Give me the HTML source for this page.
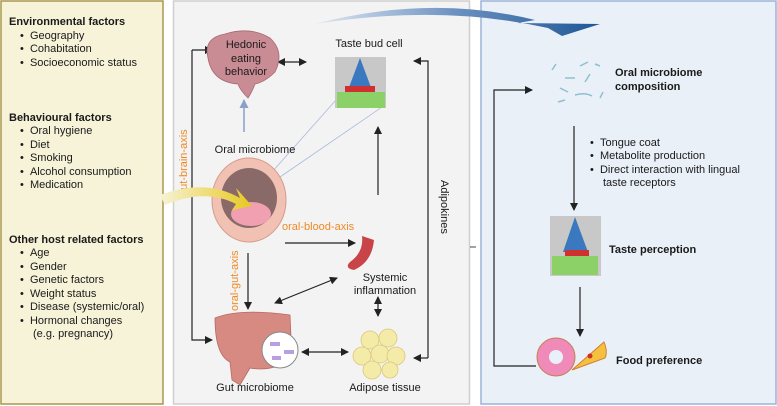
<!DOCTYPE html>
<html><head><meta charset="utf-8"><style>
body{margin:0;width:777px;height:406px;overflow:hidden;background:#fff;font-family:"Liberation Sans",sans-serif}
svg{display:block}
text{font-family:"Liberation Sans",sans-serif;font-size:11px;fill:#1a1a1a}
.b{font-weight:bold}
.o{fill:#f08a24}
</style></head><body>
<svg width="777" height="406" viewBox="0 0 777 406">
<defs>
<marker id="a" markerWidth="8" markerHeight="8" refX="7" refY="4" orient="auto" markerUnits="userSpaceOnUse"><path d="M0,0 L8,4 L0,8 z" fill="#222"/></marker>
<marker id="s" markerWidth="8" markerHeight="8" refX="1" refY="4" orient="auto" markerUnits="userSpaceOnUse"><path d="M8,0 L0,4 L8,8 z" fill="#222"/></marker>
<marker id="g" markerWidth="9" markerHeight="9" refX="8" refY="4.5" orient="auto" markerUnits="userSpaceOnUse"><path d="M0,0 L9,4.5 L0,9 z" fill="#8aa0c8"/></marker>
<linearGradient id="bl" x1="0" x2="1"><stop offset="0" stop-color="#dfe8f4"/><stop offset="0.5" stop-color="#6a90c0"/><stop offset="1" stop-color="#1f5696"/></linearGradient>
<linearGradient id="yl" x1="0" x2="1"><stop offset="0" stop-color="#f6f3d6"/><stop offset="1" stop-color="#e8c820"/></linearGradient>
</defs>
<rect x="1" y="1" width="162" height="403" fill="#f6f3d8" stroke="#a8974e" stroke-width="1.5"/>
<rect x="173.5" y="1" width="296" height="403" fill="#f3f3f3" stroke="#cfcfcf" stroke-width="1.5"/>
<rect x="481" y="1" width="295" height="403" fill="#eaf0f8" stroke="#9eb3d8" stroke-width="1.5"/>
<!-- left text -->
<text x="9" y="25" class="b">Environmental factors</text>
<text x="20" y="39">•&#160;&#160;Geography</text>
<text x="20" y="52">•&#160;&#160;Cohabitation</text>
<text x="20" y="66">•&#160;&#160;Socioeconomic status</text>
<text x="9" y="121" class="b">Behavioural factors</text>
<text x="20" y="134">•&#160;&#160;Oral hygiene</text>
<text x="20" y="148">•&#160;&#160;Diet</text>
<text x="20" y="161">•&#160;&#160;Smoking</text>
<text x="20" y="175">•&#160;&#160;Alcohol consumption</text>
<text x="20" y="188">•&#160;&#160;Medication</text>
<text x="9" y="243" class="b">Other host related factors</text>
<text x="20" y="256">•&#160;&#160;Age</text>
<text x="20" y="270">•&#160;&#160;Gender</text>
<text x="20" y="283">•&#160;&#160;Genetic factors</text>
<text x="20" y="297">•&#160;&#160;Weight status</text>
<text x="20" y="310">•&#160;&#160;Disease (systemic/oral)</text>
<text x="20" y="324">•&#160;&#160;Hormonal changes</text>
<text x="33" y="337">(e.g. pregnancy)</text>
<!-- big blue arrow -->
<path d="M315,24 Q430,-6 535,20 L518,23 L600,24 L562,36 L548,28 Q440,4 315,24 z" fill="url(#bl)"/>
<!-- middle connectors -->
<path d="M192,50 L192,340 L212,340" fill="none" stroke="#222" stroke-width="1.2" marker-end="url(#a)"/>
<line x1="192" y1="50" x2="212" y2="50" stroke="#222" stroke-width="1.2" marker-end="url(#a)"/>
<text class="o" transform="translate(187,196) rotate(-90)">gut-brain-axis</text>
<line x1="278" y1="62" x2="306" y2="62" stroke="#222" stroke-width="1.2" marker-start="url(#s)" marker-end="url(#a)"/>
<line x1="244" y1="132" x2="244" y2="100" stroke="#8aa0c8" stroke-width="1.5" marker-end="url(#g)"/>
<line x1="272" y1="172" x2="336" y2="100" stroke="#a9bbd8" stroke-width="0.8"/>
<line x1="280" y1="177" x2="385" y2="105" stroke="#a9bbd8" stroke-width="0.8"/>
<line x1="285" y1="243" x2="355" y2="243" stroke="#222" stroke-width="1.2" marker-end="url(#a)"/>
<text x="282" y="230" class="o">oral-blood-axis</text>
<line x1="248" y1="253" x2="248" y2="309" stroke="#222" stroke-width="1.2" marker-end="url(#a)"/>
<text class="o" transform="translate(238,311) rotate(-90)">oral-gut-axis</text>
<line x1="378" y1="195" x2="378" y2="127" stroke="#222" stroke-width="1.2" marker-end="url(#a)"/>
<line x1="275" y1="303" x2="337" y2="278" stroke="#222" stroke-width="1.2" marker-start="url(#s)" marker-end="url(#a)"/>
<line x1="378" y1="297" x2="378" y2="316" stroke="#222" stroke-width="1.2" marker-start="url(#s)" marker-end="url(#a)"/>
<line x1="302" y1="352" x2="348" y2="352" stroke="#222" stroke-width="1.2" marker-start="url(#s)" marker-end="url(#a)"/>
<path d="M428,358 L428,61 L414,61" fill="none" stroke="#222" stroke-width="1.2" marker-end="url(#a)"/>
<path d="M428,358 L414,358" fill="none" stroke="#222" stroke-width="1.2" marker-end="url(#a)"/>
<text transform="translate(441,180) rotate(90)">Adipokines</text>
<!-- brain -->
<path d="M208,58 Q203,38 225,34 Q250,26 270,38 Q285,52 275,72 Q265,82 255,84 Q252,92 248,98 Q240,90 238,84 Q212,82 208,58 z" fill="#c98c94" stroke="#a86a72" stroke-width="0.8"/>
<text x="246" y="48" text-anchor="middle">Hedonic</text>
<text x="246" y="62" text-anchor="middle">eating</text>
<text x="246" y="75" text-anchor="middle">behavior</text>
<!-- taste bud -->
<text x="369" y="47" text-anchor="middle">Taste bud cell</text>
<rect x="335" y="57" width="51" height="51" fill="#c8c8c8"/>
<path d="M360,58 L348,90 L372,90 z" fill="#3a78c0"/>
<rect x="345" y="86" width="30" height="6" fill="#d03030"/>
<rect x="337" y="92" width="48" height="16" fill="#8cd068"/>
<!-- mouth -->
<text x="255" y="153" text-anchor="middle">Oral microbiome</text>
<ellipse cx="249" cy="200" rx="37" ry="42" fill="#f1c2b4" stroke="#d89a8a"/>
<ellipse cx="249" cy="198" rx="28" ry="30" fill="#8a6a68"/>
<ellipse cx="251" cy="214" rx="20" ry="12" fill="#f0a0b0"/>
<path d="M160,195 Q205,178 240,198 L236,188 L252,206 L232,210 L236,204 Q205,188 165,205 z" fill="url(#yl)"/>
<!-- blood vessel -->
<path d="M362,236 Q364,252 350,262 Q344,268 354,270 Q372,262 374,240 z" fill="#c84448"/>
<text x="385" y="281" text-anchor="middle">Systemic</text>
<text x="385" y="294" text-anchor="middle">inflammation</text>
<!-- gut -->
<path d="M215,318 Q240,308 290,315 L292,360 Q270,372 250,368 L240,385 L232,380 L230,362 Q215,355 215,318 z" fill="#d68a82" stroke="#b86a62" stroke-width="0.8"/>
<circle cx="280" cy="350" r="18" fill="#fff" stroke="#888"/>
<rect x="270" y="342" width="10" height="4" fill="#b7a0e0"/><rect x="284" y="350" width="10" height="4" fill="#b7a0e0"/><rect x="272" y="356" width="9" height="4" fill="#b7a0e0"/>
<text x="255" y="391" text-anchor="middle">Gut microbiome</text>
<g fill="#f5eba8" stroke="#d8c878" stroke-width="0.8">
<circle cx="370" cy="340" r="9"/><circle cx="388" cy="338" r="9"/><circle cx="362" cy="356" r="9"/><circle cx="380" cy="354" r="9"/><circle cx="396" cy="356" r="9"/><circle cx="372" cy="370" r="9"/><circle cx="390" cy="370" r="8"/></g>
<text x="385" y="391" text-anchor="middle">Adipose tissue</text>
<line x1="470" y1="247" x2="476" y2="247" stroke="#444"/>
<!-- right panel -->
<path d="M536,366 L494,366 L494,90 L532,90" fill="none" stroke="#222" stroke-width="1.2" marker-end="url(#a)"/>
<g stroke="#8cc0d0" stroke-width="1.5" fill="none">
<path d="M552,70 L556,64"/><path d="M565,78 L575,78"/><path d="M575,95 Q585,92 592,96"/><path d="M585,82 L590,74"/><path d="M595,64 L600,66"/><path d="M558,102 L565,100"/><path d="M600,98 L603,92"/><path d="M560,88 L568,92"/><path d="M580,66 L588,62"/></g>
<text x="615" y="76" class="b">Oral microbiome</text>
<text x="615" y="90" class="b">composition</text>
<line x1="574" y1="126" x2="574" y2="210" stroke="#222" stroke-width="1.2" marker-end="url(#a)"/>
<text x="590" y="146">•&#160;&#160;Tongue coat</text>
<text x="590" y="159">•&#160;&#160;Metabolite production</text>
<text x="590" y="173">•&#160;&#160;Direct interaction with lingual</text>
<text x="603" y="186">taste receptors</text>
<rect x="550" y="216" width="51" height="60" fill="#c8c8c8"/>
<path d="M575,217 L563,252 L588,252 z" fill="#3a78c0"/>
<rect x="565" y="250" width="24" height="6" fill="#d03030"/>
<rect x="552" y="256" width="46" height="19" fill="#8cd068"/>
<text x="609" y="253" class="b">Taste perception</text>
<line x1="580" y1="287" x2="580" y2="336" stroke="#222" stroke-width="1.2" marker-end="url(#a)"/>
<circle cx="556" cy="357" r="19" fill="#f08ab8" stroke="#c08050"/>
<circle cx="556" cy="357" r="7" fill="#eaf0f8"/>
<path d="M572,370 L604,342 Q608,352 605,358 z" fill="#f5c040" stroke="#d08030"/>
<circle cx="590" cy="356" r="2.5" fill="#d03020"/>
<text x="616" y="364" class="b">Food preference</text>
</svg>
</body></html>
